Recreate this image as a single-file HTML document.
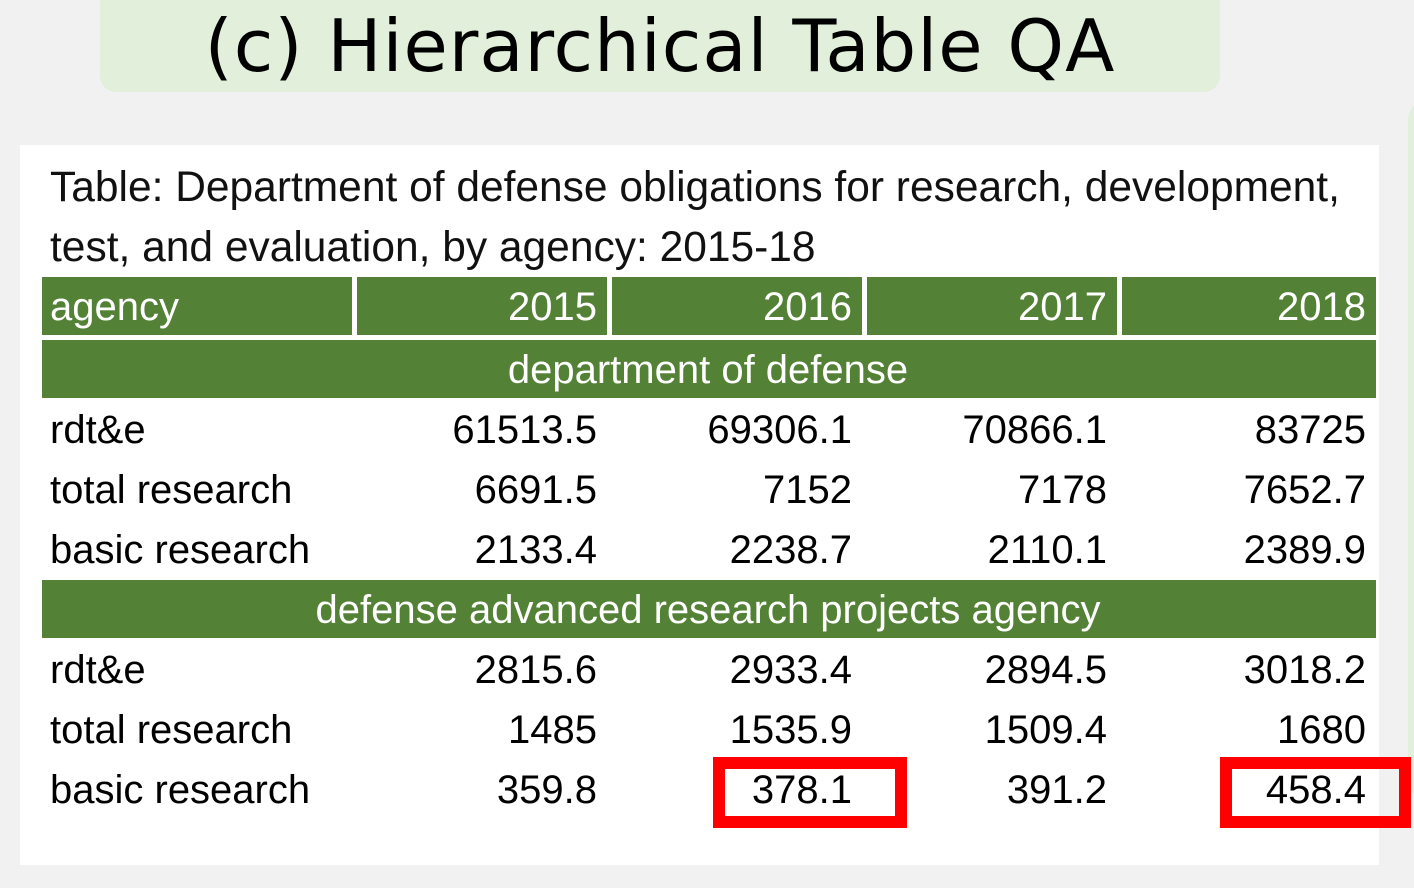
<!DOCTYPE html>
<html><head><meta charset="utf-8"><style>
body{margin:0;width:1414px;height:888px;background:#f1f1f1;position:relative;overflow:hidden;font-family:"Liberation Sans",sans-serif}
.abs{position:absolute}
.title{left:100px;top:0;width:1120px;height:92px;background:#e2efda;border-radius:0 0 16px 16px;font-family:"DejaVu Sans",sans-serif;font-size:72px;line-height:92px;text-align:center;color:#000;letter-spacing:1px}
.panel{left:20px;top:145px;width:1359px;height:720px;background:#fff}
.cap{left:50px;font-size:42.5px;color:#111;white-space:nowrap}
.g{background:#538135;color:#fff}
.cell{position:absolute;font-size:40px;line-height:60px;height:58px;box-sizing:border-box;padding:0 10px 0 8px;white-space:nowrap}
.r{text-align:right}
.red{border:12px solid #f00;box-sizing:border-box}
</style></head><body>
<div class="abs title">(c) Hierarchical Table QA</div>
<div class="abs" style="left:1408px;top:100px;width:40px;height:700px;background:#e2efda;border-radius:20px"></div>
<div class="abs panel"></div>
<div class="abs cap" style="top:164px">Table: Department of defense obligations for research, development,</div>
<div class="abs cap" style="top:224px">test, and evaluation, by agency: 2015-18</div>
<div id="tbl"></div>
<script>
const years=["2015","2016","2017","2018"];
const sections=["department of defense","defense advanced research projects agency"];
const rowLabels=["rdt&e","total research","basic research"];
const dodValues=[["61513.5","69306.1","70866.1","83725"],["6691.5","7152","7178","7652.7"],["2133.4","2238.7","2110.1","2389.9"]];
const darpaValues=[["2815.6","2933.4","2894.5","3018.2"],["1485","1535.9","1509.4","1680"],["359.8","378.1","391.2","458.4"]];
const cols=[[42,310],[357,250],[612,250],[867,250],[1122,254]];
const host=document.getElementById('tbl');
function mk(x,y,w,txt,cls,name){const d=document.createElement('div');d.className='cell '+cls;d.style.left=x+'px';d.style.top=y+'px';d.style.width=w+'px';d.textContent=txt;


host.appendChild(d);return d;}
mk(cols[0][0],277,cols[0][1],"agency","g","header-agency");
years.forEach((y,i)=>mk(cols[i+1][0],277,cols[i+1][1],y,"g r","header-"+y));
const blocks=[dodValues,darpaValues];
let rowY=340;
sections.forEach((s,si)=>{
 const h=mk(42,rowY,1334,s,"g","section-"+si);h.style.textAlign='center';
 rowY+=60;
 blocks[si].forEach((row,ri)=>{
  mk(cols[0][0],rowY,cols[0][1],rowLabels[ri],"","row-label-"+si+"-"+ri);
  row.forEach((v,ci)=>mk(cols[ci+1][0],rowY,cols[ci+1][1],v,"r","value-"+si+"-"+ri+"-"+years[ci]));
  rowY+=60;
 });
});
</script>
<div class="abs red" style="left:713px;top:757px;width:194px;height:71px"></div>
<div class="abs red" style="left:1220px;top:757px;width:191px;height:71px"></div>
</body></html>
